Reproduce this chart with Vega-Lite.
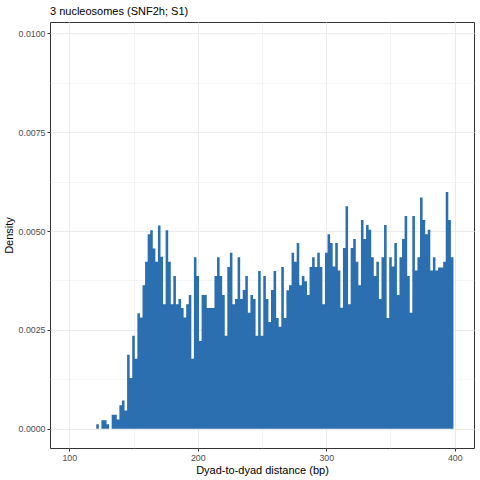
{
  "$schema": "https://vega.github.io/schema/vega-lite/v6.json",
  "width": 424,
  "height": 426,
  "autosize": "none",
  "padding": {"left": 50, "top": 22, "right": 6, "bottom": 32},
  "background": "white",
  "title": {
    "text": "3 nucleosomes (SNF2h; S1)",
    "anchor": "start",
    "frame": "group",
    "font": "Liberation Sans",
    "fontSize": 11,
    "fontWeight": "normal",
    "color": "#000000",
    "offset": 5
  },
  "data": {
    "values": [
      {"lo": 121, "density": 0.00011},
      {"lo": 123, "density": 0},
      {"lo": 125, "density": 0.00021},
      {"lo": 127, "density": 0.00021},
      {"lo": 129, "density": 0.00011},
      {"lo": 131, "density": 0},
      {"lo": 133, "density": 0.00035},
      {"lo": 135, "density": 0.00035},
      {"lo": 137, "density": 0.00023},
      {"lo": 139, "density": 0.00059},
      {"lo": 141, "density": 0.00071},
      {"lo": 143, "density": 0.00046},
      {"lo": 145, "density": 0.00187},
      {"lo": 147, "density": 0.00128},
      {"lo": 149, "density": 0.00235},
      {"lo": 151, "density": 0.00177},
      {"lo": 153, "density": 0.00292},
      {"lo": 155, "density": 0.00281},
      {"lo": 157, "density": 0.00363},
      {"lo": 159, "density": 0.00422},
      {"lo": 161, "density": 0.00492},
      {"lo": 163, "density": 0.00502},
      {"lo": 165, "density": 0.00456},
      {"lo": 167, "density": 0.00422},
      {"lo": 169, "density": 0.00514},
      {"lo": 171, "density": 0.00435},
      {"lo": 173, "density": 0.00315},
      {"lo": 175, "density": 0.00502},
      {"lo": 177, "density": 0.00422},
      {"lo": 179, "density": 0.00315},
      {"lo": 181, "density": 0.00386},
      {"lo": 183, "density": 0.00315},
      {"lo": 185, "density": 0.00328},
      {"lo": 187, "density": 0.00305},
      {"lo": 189, "density": 0.00281},
      {"lo": 191, "density": 0.00315},
      {"lo": 193, "density": 0.00338},
      {"lo": 195, "density": 0.00177},
      {"lo": 197, "density": 0.00434},
      {"lo": 199, "density": 0.00386},
      {"lo": 201, "density": 0.00222},
      {"lo": 203, "density": 0.00338},
      {"lo": 205, "density": 0.00338},
      {"lo": 207, "density": 0.00305},
      {"lo": 209, "density": 0.00305},
      {"lo": 211, "density": 0.00305},
      {"lo": 213, "density": 0.00386},
      {"lo": 215, "density": 0.00434},
      {"lo": 217, "density": 0.00386},
      {"lo": 219, "density": 0.00338},
      {"lo": 221, "density": 0.00235},
      {"lo": 223, "density": 0.00409},
      {"lo": 225, "density": 0.00445},
      {"lo": 227, "density": 0.00315},
      {"lo": 229, "density": 0.00328},
      {"lo": 231, "density": 0.00434},
      {"lo": 233, "density": 0.00328},
      {"lo": 235, "density": 0.00351},
      {"lo": 237, "density": 0.00386},
      {"lo": 239, "density": 0.00293},
      {"lo": 241, "density": 0.00338},
      {"lo": 243, "density": 0.00328},
      {"lo": 245, "density": 0.00235},
      {"lo": 247, "density": 0.00399},
      {"lo": 249, "density": 0.00235},
      {"lo": 251, "density": 0.00386},
      {"lo": 253, "density": 0.00328},
      {"lo": 255, "density": 0.0027},
      {"lo": 257, "density": 0.00351},
      {"lo": 259, "density": 0.00399},
      {"lo": 261, "density": 0.0028},
      {"lo": 263, "density": 0.00258},
      {"lo": 265, "density": 0.00409},
      {"lo": 267, "density": 0.0028},
      {"lo": 269, "density": 0.0035},
      {"lo": 271, "density": 0.00363},
      {"lo": 273, "density": 0.00445},
      {"lo": 275, "density": 0.00422},
      {"lo": 277, "density": 0.0047},
      {"lo": 279, "density": 0.00363},
      {"lo": 281, "density": 0.00386},
      {"lo": 283, "density": 0.00373},
      {"lo": 285, "density": 0.00338},
      {"lo": 287, "density": 0.00409},
      {"lo": 289, "density": 0.00434},
      {"lo": 291, "density": 0.00409},
      {"lo": 293, "density": 0.00445},
      {"lo": 295, "density": 0.00409},
      {"lo": 297, "density": 0.00315},
      {"lo": 299, "density": 0.00445},
      {"lo": 301, "density": 0.00492},
      {"lo": 303, "density": 0.0047},
      {"lo": 305, "density": 0.0041},
      {"lo": 307, "density": 0.0047},
      {"lo": 309, "density": 0.004},
      {"lo": 311, "density": 0.00306},
      {"lo": 313, "density": 0.00457},
      {"lo": 315, "density": 0.00563},
      {"lo": 317, "density": 0.00315},
      {"lo": 319, "density": 0.00457},
      {"lo": 321, "density": 0.0048},
      {"lo": 323, "density": 0.00422},
      {"lo": 325, "density": 0.00363},
      {"lo": 327, "density": 0.00528},
      {"lo": 329, "density": 0.0048},
      {"lo": 331, "density": 0.00515},
      {"lo": 333, "density": 0.00503},
      {"lo": 335, "density": 0.00434},
      {"lo": 337, "density": 0.00386},
      {"lo": 339, "density": 0.00422},
      {"lo": 341, "density": 0.00328},
      {"lo": 343, "density": 0.00434},
      {"lo": 345, "density": 0.00515},
      {"lo": 347, "density": 0.0028},
      {"lo": 349, "density": 0.00434},
      {"lo": 351, "density": 0.0041},
      {"lo": 353, "density": 0.0047},
      {"lo": 355, "density": 0.00338},
      {"lo": 357, "density": 0.00434},
      {"lo": 359, "density": 0.0048},
      {"lo": 361, "density": 0.00538},
      {"lo": 363, "density": 0.00386},
      {"lo": 365, "density": 0.00293},
      {"lo": 367, "density": 0.00538},
      {"lo": 369, "density": 0.004},
      {"lo": 371, "density": 0.00434},
      {"lo": 373, "density": 0.00585},
      {"lo": 375, "density": 0.00528},
      {"lo": 377, "density": 0.00492},
      {"lo": 379, "density": 0.00503},
      {"lo": 381, "density": 0.004},
      {"lo": 383, "density": 0.00434},
      {"lo": 385, "density": 0.004},
      {"lo": 387, "density": 0.00408},
      {"lo": 389, "density": 0.00408},
      {"lo": 391, "density": 0.00422},
      {"lo": 393, "density": 0.00599},
      {"lo": 395, "density": 0.00528},
      {"lo": 397, "density": 0.00434},
      {"lo": 399, "density": 0.00434}
    ]
  },
  "mark": {"type": "area", "interpolate": "step-after", "color": "#2B6FB0", "opacity": 1},
  "encoding": {
    "x": {
      "field": "lo",
      "type": "quantitative",
      "sort": null,
      "scale": {"domain": [85, 415], "nice": false, "zero": false},
      "axis": {
        "title": "Dyad-to-dyad distance (bp)",
        "values": [100, 150, 200, 250, 300, 350, 400],
        "labelExpr": "datum.value % 100 === 0 ? datum.label : ''",
        "tickOpacity": {"condition": {"test": "datum.value % 100 !== 0", "value": 0}, "value": 1},
        "gridWidth": {"condition": {"test": "datum.value % 100 !== 0", "value": 0.5}, "value": 1},
        "format": "d",
        "titlePadding": 3
      }
    },
    "y": {
      "field": "density",
      "type": "quantitative",
      "scale": {"domain": [-0.00049, 0.01029], "nice": false, "zero": false},
      "axis": {
        "title": "Density",
        "values": [0, 0.00125, 0.0025, 0.00375, 0.005, 0.00625, 0.0075, 0.00875, 0.01],
        "labelExpr": "round(datum.value * 100000) % 250 === 0 ? format(datum.value, '.4f') : ''",
        "tickOpacity": {"condition": {"test": "round(datum.value * 100000) % 250 !== 0", "value": 0}, "value": 1},
        "gridWidth": {"condition": {"test": "round(datum.value * 100000) % 250 !== 0", "value": 0.5}, "value": 1},
        "titlePadding": 4
      }
    },
    "y2": {"datum": 0}
  },
  "config": {
    "font": "Liberation Sans",
    "view": {"stroke": "#333333", "strokeWidth": 1},
    "axis": {
      "domain": false,
      "grid": true,
      "gridColor": "#EBEBEB",
      "tickColor": "#333333",
      "tickSize": 3,
      "tickWidth": 1,
      "labelFont": "Liberation Sans",
      "labelFontSize": 8.8,
      "labelColor": "#4D4D4D",
      "labelPadding": 2,
      "titleFont": "Liberation Sans",
      "titleFontSize": 11,
      "titleFontWeight": "normal",
      "titleColor": "#000000"
    }
  }
}
